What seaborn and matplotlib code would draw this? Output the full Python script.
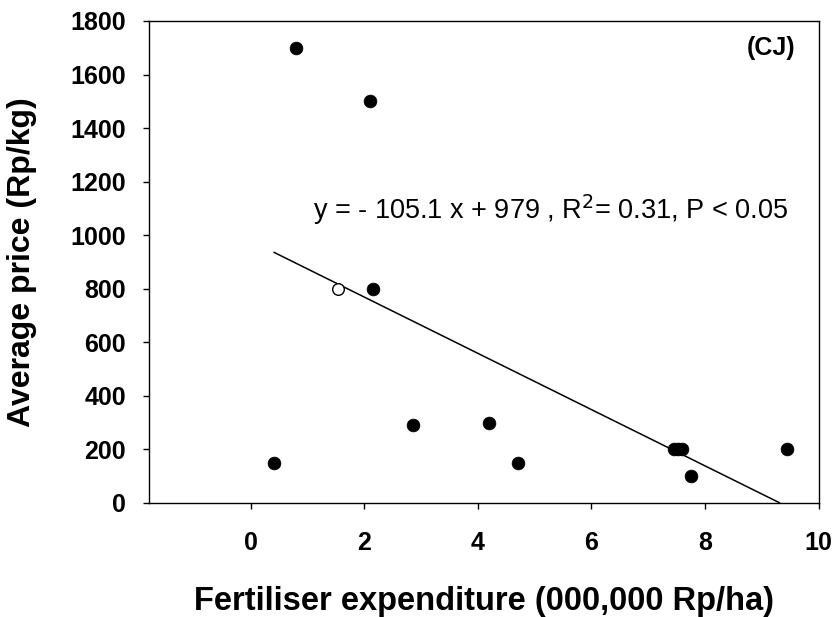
import numpy as np
import pandas as pd
import seaborn as sns
from matplotlib import pyplot as plt

# filled points (fertiliser expenditure, average price)
fert = [0.41, 0.8, 2.1, 2.15, 2.86, 4.19, 4.7, 7.45, 7.52, 7.59, 7.75, 9.45]
price = [150, 1700, 1500, 800, 290, 300, 150, 200, 200, 200, 100, 200]
# open point
fert_open = [1.54]
price_open = [800]

slope = -105.1
intercept = 979
x_ticks = [0, 2, 4, 6, 8, 10]
y_ticks = [0, 200, 400, 600, 800, 1000, 1200, 1400, 1600, 1800]

sns.set_theme(style="ticks")
plt.rcParams['font.family'] = ['Liberation Sans', 'DejaVu Sans']
plt.rcParams['text.color'] = 'black'
plt.rcParams['axes.labelcolor'] = 'black'

fig = plt.figure(figsize=(8.37, 6.17), dpi=100)
ax = fig.add_axes([0.178, 0.185, 0.800, 0.781])

df = pd.DataFrame({"fert": fert, "price": price})
sns.scatterplot(data=df, x="fert", y="price", ax=ax, color="black",
                s=85, edgecolor="black", linewidth=0.5, zorder=3)
sns.scatterplot(x=fert_open, y=price_open, ax=ax, color="white",
                s=70, edgecolor="black", linewidth=1, zorder=3)

# regression line from min x to the x-intercept
x_line = np.array([min(fert), -intercept / slope])
line_df = pd.DataFrame({"x": x_line, "y": slope * x_line + intercept})
sns.lineplot(data=line_df, x="x", y="y", ax=ax, color="black", linewidth=1.1, zorder=2)

ax.set_xlim(-1.79, 10)
ax.set_ylim(0, 1800)
ax.set_xticks(x_ticks)
ax.set_yticks(y_ticks)
for lab in ax.get_xticklabels() + ax.get_yticklabels():
    lab.set_fontweight("bold")
ax.tick_params(labelsize=18, length=4.5, width=1, direction="out", colors="black")
ax.tick_params(axis="x", pad=16)
ax.tick_params(axis="y", pad=12)
for sp in ax.spines.values():
    sp.set_visible(True)
    sp.set_color("black")
    sp.set_linewidth(1)

ax.set_xlabel("Fertiliser expenditure (000,000 Rp/ha)", fontsize=23.5, fontweight="bold", labelpad=22)
ax.set_ylabel("Average price (Rp/kg)", fontsize=23, fontweight="bold", labelpad=24)

ax.text(1.10, 1094, r"y = - 105.1 x + 979 , R$^2$= 0.31, P < 0.05", fontsize=19.5,
        va="center", ha="left")
ax.text(9.6, 1699, "(CJ)", fontsize=18, fontweight="bold", va="center", ha="right")

fig.savefig("out.png", dpi=100)
